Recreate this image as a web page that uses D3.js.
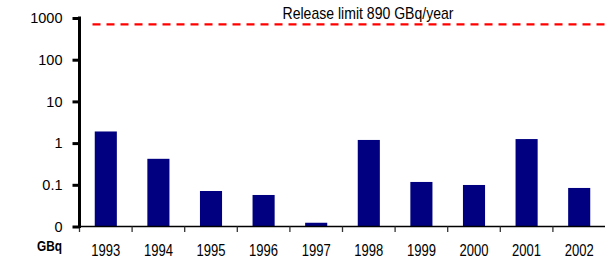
<!DOCTYPE html>
<html>
  <head>
    <script src="https://d3js.org/d3.v7.min.js"></script>
    <style>
      body { margin: 0; background: #fff; }
      text { font-family: "Liberation Sans", Arial, sans-serif; fill: #000; }
    </style>
  </head>
  <body>
    <svg width="605" height="259"></svg>
    <script>

      // data (GBq, log scale)
      const years = ["1993", "1994", "1995", "1996", "1997", "1998", "1999", "2000", "2001", "2002"];
      const releases = [1.9, 0.42, 0.071, 0.057, 0.0123, 1.19, 0.117, 0.099, 1.25, 0.084];
      const yTicks = [0.01, 0.1, 1, 10, 100, 1000];
      const yTickLabels = ["0", "0.1", "1", "10", "100", "1000"];
      const limitLevel = 700; // where the dashed line sits in the picture
      const limitLabel = "Release limit 890 GBq/year";

      const svg = d3.select("svg");

      const plotLeft = 79.5, plotRight = 605.5, plotTop = 18, plotBottom = 226.5;

      const yScale = d3.scaleLog()
          .domain([0.01, 1000])
          .range([plotBottom, plotTop]);

      const xScale = d3.scaleBand()
          .domain(years)
          .range([plotLeft, plotRight])
          .padding(0);

      const barW = xScale.bandwidth() * 0.42;

      // bars
      svg.append("g")
        .selectAll("rect")
        .data(years)
        .join("rect")
        .attr("x", (d) => xScale(d) + (xScale.bandwidth() - barW) / 2)
        .attr("y", (d, i) => yScale(releases[i]))
        .attr("width", barW)
        .attr("height", (d, i) => plotBottom - yScale(releases[i]))
        .attr("fill", "#000080");

      // x axis line + boundary ticks
      svg.append("line")
        .attr("x1", plotLeft).attr("x2", plotRight)
        .attr("y1", plotBottom).attr("y2", plotBottom)
        .attr("stroke", "#000").attr("stroke-width", 1.5);

      svg.append("g")
        .selectAll("line")
        .data(years)
        .join("line")
        .attr("x1", (d) => xScale(d)).attr("x2", (d) => xScale(d))
        .attr("y1", plotBottom).attr("y2", plotBottom + 5.5)
        .attr("stroke", "#333").attr("stroke-width", 1.3);

      // year labels, condensed to match the narrow face
      svg.append("g")
        .selectAll("text")
        .data(years)
        .join("text")
        .attr("x", (d) => xScale(d) + xScale.bandwidth() / 2)
        .attr("y", 256)
        .attr("text-anchor", "middle")
        .attr("textLength", 29)
        .attr("lengthAdjust", "spacingAndGlyphs")
        .style("font-size", "16px")
        .text((d) => d);

      // y axis
      const yAxis = svg.append("g")
          .attr("transform", `translate(${plotLeft}, 0)`)
          .call(d3.axisLeft(yScale)
            .tickValues(yTicks)
            .tickFormat((d, i) => yTickLabels[i])
            .tickSizeOuter(0)
            .tickSize(7)
            .tickPadding(10));

      yAxis.select(".domain").attr("stroke", "#000").attr("stroke-width", 3)
        .attr("d", `M0,${plotTop - 1.5}V${plotBottom + 1.5}`);
      yAxis.selectAll(".tick line").attr("stroke", "#000").attr("stroke-width", 3);
      yAxis.selectAll(".tick text")
        .style("font-family", "'Liberation Sans', Arial, sans-serif")
        .style("font-size", "14.5px");

      svg.append("text")
        .attr("x", 62)
        .attr("y", 251)
        .attr("text-anchor", "end")
        .attr("textLength", 25)
        .attr("lengthAdjust", "spacingAndGlyphs")
        .style("font-weight", "bold")
        .style("font-size", "15.5px")
        .text("GBq");

      // release limit
      svg.append("line")
        .attr("x1", 92.5).attr("x2", plotRight)
        .attr("y1", yScale(limitLevel)).attr("y2", yScale(limitLevel))
        .attr("stroke", "#ff0000")
        .attr("stroke-width", 2.2)
        .attr("stroke-dasharray", "8,6");

      svg.append("text")
        .attr("x", 368)
        .attr("y", 18.5)
        .attr("text-anchor", "middle")
        .attr("textLength", 171)
        .attr("lengthAdjust", "spacingAndGlyphs")
        .style("font-size", "17px")
        .text(limitLabel);

    </script>
  </body>
</html>
